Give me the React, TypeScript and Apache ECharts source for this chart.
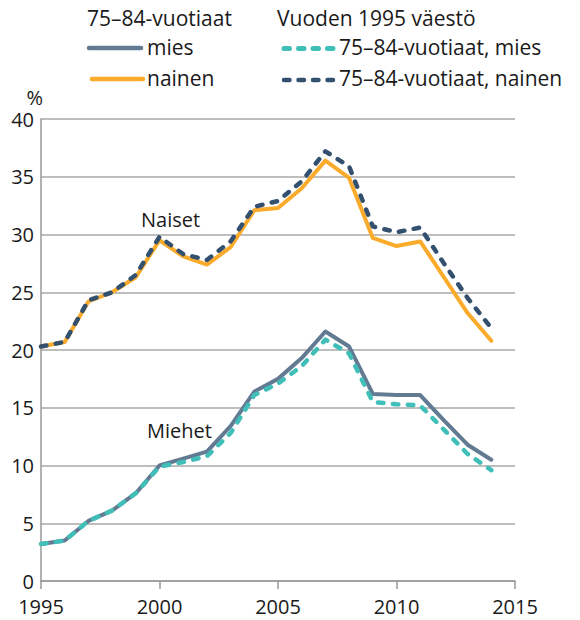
import React, { useEffect, useRef } from "react";
import * as echarts from "echarts";

const years = [1995, 1996, 1997, 1998, 1999, 2000, 2001, 2002, 2003, 2004, 2005, 2006, 2007, 2008, 2009, 2010, 2011, 2012, 2013, 2014];
const miesValues = [3.2, 3.5, 5.2, 6.1, 7.6, 10.0, 10.6, 11.2, 13.4, 16.4, 17.5, 19.3, 21.6, 20.3, 16.2, 16.1, 16.1, 13.9, 11.8, 10.5];
const nainenValues = [20.3, 20.7, 24.2, 25.0, 26.3, 29.5, 28.1, 27.4, 28.9, 32.1, 32.3, 34.0, 36.4, 34.9, 29.7, 29.0, 29.4, 26.3, 23.2, 20.8];
const mies1995Values = [3.2, 3.5, 5.2, 6.1, 7.6, 9.9, 10.3, 10.8, 12.8, 16.1, 17.1, 18.6, 20.9, 19.7, 15.5, 15.3, 15.2, 13.1, 11.0, 9.6];
const nainen1995Values = [20.3, 20.7, 24.3, 25.0, 26.5, 29.8, 28.3, 27.8, 29.4, 32.4, 32.9, 34.6, 37.2, 35.9, 30.7, 30.2, 30.6, 27.5, 24.5, 21.9];
const xTicks = [1995, 2000, 2005, 2010, 2015];
const yTicks = [0, 5, 10, 15, 20, 25, 30, 35, 40];

const FONT = "'Open Sans', 'Noto Sans', sans-serif";
const C_MIES = "#627b93";
const C_NAINEN = "#fbab2c";
const C_MIES95 = "#40bfb8";
const C_NAINEN95 = "#33506f";

const pairs = (vals: number[]) => years.map((y, i) => [y, vals[i]]);

export default function App() {
  const ref = useRef<HTMLDivElement>(null);
  useEffect(() => {
    if (!ref.current) return;
    const chart = echarts.init(ref.current, null, { renderer: "svg" });
    const solid = (color: string) => ({ color, width: 4, cap: "round", join: "round" });
    const dashed = (color: string) => ({ color, width: 4.5, type: [5.5, 9.5], cap: "round", join: "round" });
    const legendText = (x: number, y: number, text: string) => ({
      type: "text",
      x,
      y,
      style: { text, font: `21px ${FONT}`, fill: "#1a1a1a", verticalAlign: "middle", align: "left" },
    });
    chart.setOption({
      animation: false,
      textStyle: { fontFamily: FONT },
      grid: { left: 41, right: 65, top: 119, bottom: 39, containLabel: false },
      xAxis: {
        type: "value",
        min: xTicks[0],
        max: xTicks[xTicks.length - 1],
        interval: 5,
        axisLine: { show: true, lineStyle: { color: "#999999", width: 1.5 } },
        axisTick: { show: true, length: 8, lineStyle: { color: "#999999", width: 1.5 } },
        splitLine: { show: false },
        axisLabel: { formatter: (v: number) => String(v), fontSize: 20, color: "#1a1a1a", margin: 15, fontFamily: FONT },
      },
      yAxis: {
        type: "value",
        min: yTicks[0],
        max: yTicks[yTicks.length - 1],
        interval: 5,
        name: "%",
        nameLocation: "end",
        nameGap: 14,
        nameTextStyle: { fontSize: 20, lineHeight: 15, color: "#1a1a1a", align: "right", fontFamily: FONT, padding: [0, -2, 0, 0] },
        axisLine: { show: true, lineStyle: { color: "#999999", width: 1.5 } },
        axisTick: { show: false },
        splitLine: { show: true, lineStyle: { color: "#a8a8a8", width: 1.5 } },
        axisLabel: { fontSize: 20, color: "#1a1a1a", margin: 7, fontFamily: FONT },
      },
      series: [
        { name: "mies", type: "line", data: pairs(miesValues), showSymbol: false, lineStyle: solid(C_MIES), z: 2 },
        { name: "nainen", type: "line", data: pairs(nainenValues), showSymbol: false, lineStyle: solid(C_NAINEN), z: 2 },
        { name: "75–84-vuotiaat, mies", type: "line", data: pairs(mies1995Values), showSymbol: false, lineStyle: dashed(C_MIES95), z: 3 },
        { name: "75–84-vuotiaat, nainen", type: "line", data: pairs(nainen1995Values), showSymbol: false, lineStyle: dashed(C_NAINEN95), z: 3 },
      ],
      graphic: [
        legendText(87, 18, "75–84-vuotiaat"),
        legendText(277, 18, "Vuoden 1995 väestö"),
        { type: "line", shape: { x1: 89, y1: 48, x2: 141, y2: 48 }, style: { stroke: C_MIES, lineWidth: 4.5, lineCap: "round" } },
        legendText(147, 46.5, "mies"),
        { type: "line", shape: { x1: 92, y1: 79, x2: 143, y2: 79 }, style: { stroke: C_NAINEN, lineWidth: 4.5, lineCap: "round" } },
        legendText(147, 77.5, "nainen"),
        { type: "line", shape: { x1: 284, y1: 48.5, x2: 336, y2: 48.5 }, style: { stroke: C_MIES95, lineWidth: 5, lineCap: "round", lineDash: [5.5, 9] } },
        legendText(339, 46.5, "75–84-vuotiaat, mies"),
        { type: "line", shape: { x1: 284, y1: 80, x2: 336, y2: 80 }, style: { stroke: C_NAINEN95, lineWidth: 4.5, lineCap: "round", lineDash: [5.5, 9] } },
        legendText(339, 77.5, "75–84-vuotiaat, nainen"),
        { type: "text", x: 141, y: 219.5, style: { text: "Naiset", font: `20px ${FONT}`, fill: "#1a1a1a", verticalAlign: "middle" } },
        { type: "text", x: 147, y: 430, style: { text: "Miehet", font: `20px ${FONT}`, fill: "#1a1a1a", verticalAlign: "middle" } },
      ],
    });
    return () => chart.dispose();
  }, []);
  return <div ref={ref} style={{ width: 580, height: 620, position: "absolute", left: 0, top: 0 }} />;
}
